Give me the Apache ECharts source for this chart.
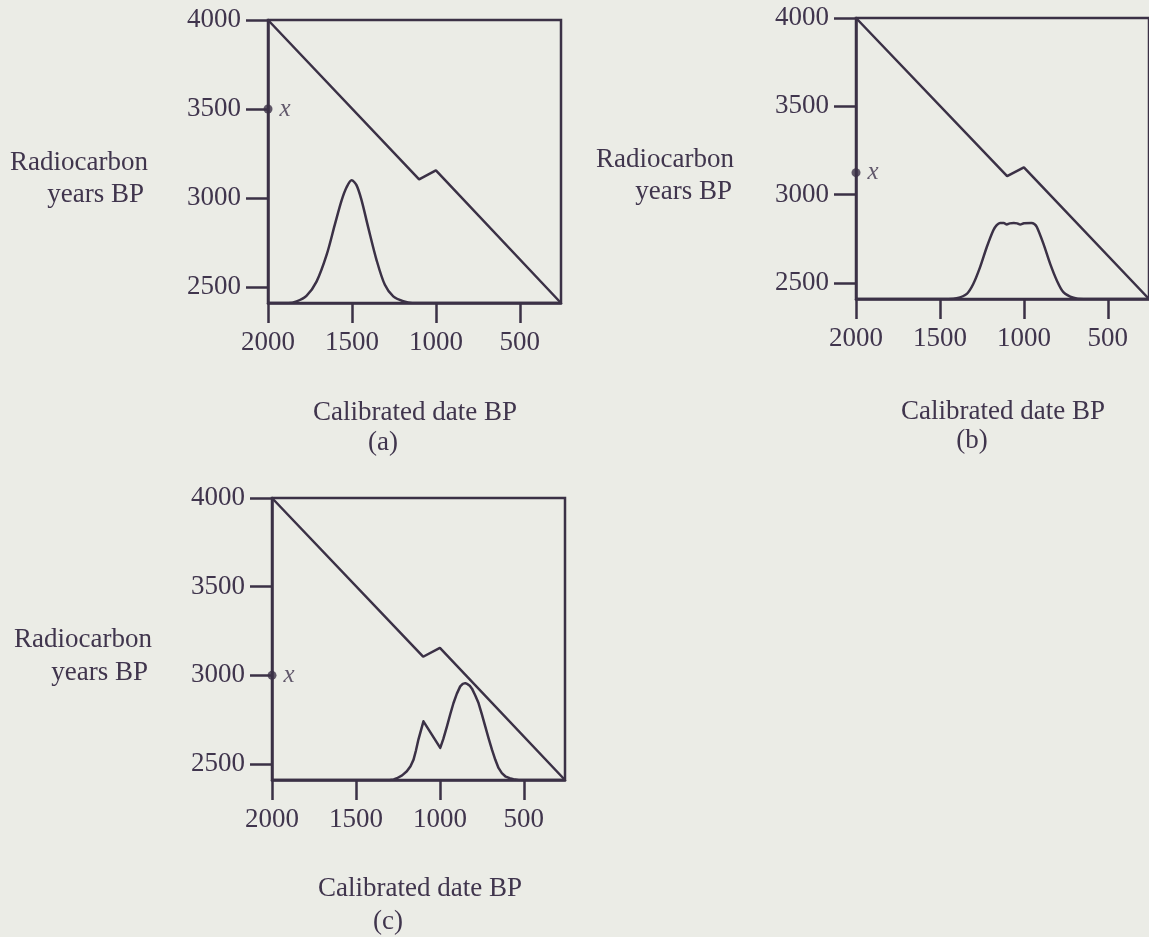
<!DOCTYPE html>
<html>
<head>
<meta charset="utf-8">
<script src="https://cdn.jsdelivr.net/npm/echarts@6/dist/echarts.min.js"></script>
<style>
  html, body { margin: 0; padding: 0; background: #ebece6; }
  #chart { width: 1149px; height: 937px; }
</style>
</head>
<body>
<div id="chart"></div>
<script>
// ---- data ----
const xTicks = [2000, 1500, 1000, 500];
const yTicks = [2500, 3000, 3500, 4000];
const xRange = [255, 2000];
const yRange = [2410, 4000];
const calibrationCurve = [[2000, 4000], [1100, 3105], [1000, 3155], [255, 2410]];
const densityA = [[2000, 2410], [1880, 2410], [1830, 2419], [1771, 2450], [1711, 2530], [1651, 2680],
  [1602, 2850], [1562, 2985], [1532, 3060], [1502, 3100], [1473, 3072], [1443, 2988], [1404, 2838],
  [1353, 2650], [1304, 2512], [1254, 2447], [1195, 2420], [1140, 2410], [255, 2410]];
const densityB = [[2000, 2410], [1450, 2410], [1400, 2414], [1340, 2439], [1301, 2496], [1261, 2590],
  [1221, 2704], [1182, 2799], [1162, 2828], [1142, 2840], [1120, 2840], [1102, 2832], [1085, 2838],
  [1060, 2840], [1040, 2838], [1022, 2831], [1000, 2838], [955, 2840], [938, 2834], [923, 2817],
  [884, 2723], [844, 2610], [804, 2515], [765, 2449], [705, 2417], [645, 2410], [255, 2410]];
const densityC = [[2000, 2410], [1300, 2410], [1275, 2413], [1256, 2420], [1225, 2436], [1197, 2459],
  [1175, 2488], [1157, 2525], [1143, 2575], [1128, 2638], [1098, 2741], [998, 2591], [980, 2640],
  [958, 2712], [938, 2782], [919, 2844], [899, 2897], [879, 2938], [864, 2952], [849, 2956],
  [835, 2950], [822, 2941], [809, 2925], [790, 2888], [770, 2844], [750, 2780], [730, 2712],
  [710, 2645], [690, 2581], [670, 2524], [651, 2478], [631, 2449], [611, 2431], [585, 2420],
  [562, 2414], [530, 2410], [255, 2410]];
const densities = [densityA, densityB, densityC];
const observedValues = [3500, 3125, 3000];
const panelNames = ['(a)', '(b)', '(c)'];
const yName = ['Radiocarbon', 'years BP'];
const xName = 'Calibrated date BP';

// ---- style / layout ----
const ink = '#3b3146';
const textInk = '#40354d';
const serif = "'Liberation Serif', 'Times New Roman', serif";
const FS = 27;
const grids = [
  { left: 268, top: 20, width: 293, height: 283 },
  { left: 856, top: 18, width: 293, height: 281 },
  { left: 272, top: 498, width: 293, height: 282 }
];
const textPos = [
  { r1: [148, 163], r2: [144, 195], xn: [415, 413], pn: [383, 443] },
  { r1: [734, 160], r2: [732, 192], xn: [1003, 412], pn: [972, 441] },
  { r1: [152, 640], r2: [148, 673], xn: [420, 889], pn: [388, 922] }
];
const plain = v => String(v);

const option = {
  backgroundColor: '#ebece6',
  animation: false,
  grid: grids.map(g => Object.assign({ show: true, borderColor: ink, borderWidth: 2.5, backgroundColor: 'transparent' }, g)),
  xAxis: grids.map((g, i) => ({
    type: 'value', gridIndex: i, inverse: true, min: xRange[0], max: xRange[1],
    axisLine: { show: true, onZero: false, lineStyle: { color: ink, width: 2.5 } },
    axisTick: { show: true, inside: false, length: 20, customValues: xTicks, lineStyle: { color: ink, width: 2.5 } },
    axisLabel: { show: true, customValues: xTicks, formatter: plain, margin: 26, color: textInk, fontFamily: serif, fontSize: FS },
    splitLine: { show: false }
  })),
  yAxis: grids.map((g, i) => ({
    type: 'value', gridIndex: i, min: yRange[0], max: yRange[1],
    axisLine: { show: true, onZero: false, lineStyle: { color: ink, width: 2.5 } },
    axisTick: { show: true, inside: false, length: 22, customValues: yTicks, lineStyle: { color: ink, width: 2.5 } },
    axisLabel: { show: true, customValues: yTicks, formatter: plain, margin: 27, color: textInk, fontFamily: serif, fontSize: FS },
    splitLine: { show: false }
  })),
  series: [],
  graphic: []
};

grids.forEach((g, i) => {
  option.series.push({
    type: 'line', xAxisIndex: i, yAxisIndex: i, data: calibrationCurve,
    showSymbol: false, lineStyle: { color: ink, width: 2.5 }, z: 3
  });
  option.series.push({
    type: 'line', xAxisIndex: i, yAxisIndex: i, data: densities[i],
    showSymbol: false, smooth: i === 2 ? false : 0.3,
    lineStyle: { color: ink, width: 2.5, join: 'round' }, z: 3
  });
  option.series.push({
    type: 'scatter', xAxisIndex: i, yAxisIndex: i, data: [[xRange[1], observedValues[i]]],
    symbol: 'circle', symbolSize: 9, itemStyle: { color: ink }, clip: false, z: 5,
    label: { show: true, position: 'right', distance: 7, formatter: 'x', color: textInk,
      fontFamily: serif, fontStyle: 'italic', fontSize: 25 }
  });
  const t = textPos[i];
  const st = (text, align) => ({ text, fill: textInk, font: FS + 'px ' + serif, align, verticalAlign: 'middle' });
  option.graphic.push(
    { type: 'text', x: t.r1[0], y: t.r1[1], style: st(yName[0], 'right') },
    { type: 'text', x: t.r2[0], y: t.r2[1], style: st(yName[1], 'right') },
    { type: 'text', x: t.xn[0], y: t.xn[1], style: st(xName, 'center') },
    { type: 'text', x: t.pn[0], y: t.pn[1], style: st(panelNames[i], 'center') }
  );
});

const chart = echarts.init(document.getElementById('chart'), null, { renderer: 'canvas' });
chart.setOption(option);
</script>
</body>
</html>
